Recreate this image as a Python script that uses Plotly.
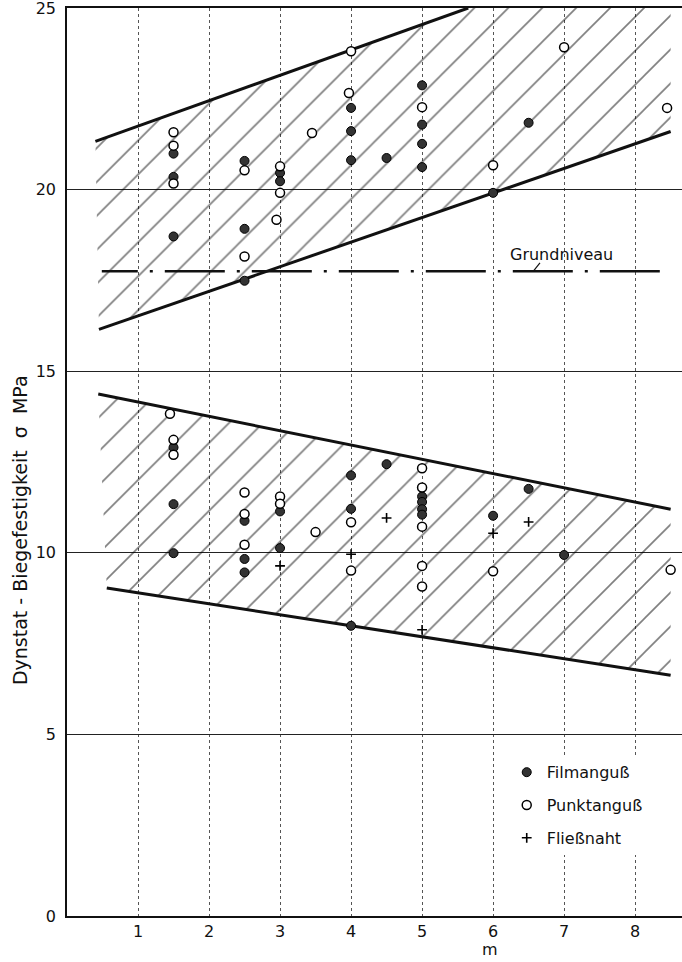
import plotly.graph_objects as go

# ---------------- data ----------------
film_x = [1.5, 1.5, 1.5, 2.5, 2.5, 2.5, 3, 3, 4, 4, 4, 4.5, 5, 5, 5, 5, 6, 6.5,
          1.5, 1.5, 1.5, 2.5, 2.5, 2.5, 3, 3, 4, 4, 4, 4.5, 5, 5, 5, 5, 6, 6.5, 7]
film_y = [20.99, 20.35, 18.71, 20.79, 18.92, 17.49, 20.46, 20.23, 22.25, 21.61, 20.81, 20.87,
          22.87, 21.79, 21.26, 20.62, 19.91, 21.84,
          12.90, 11.34, 9.99, 10.88, 9.83, 9.46, 11.14, 10.13, 12.13, 11.21, 7.99, 12.44,
          11.55, 11.40, 11.20, 11.05, 11.02, 11.76, 9.94]

punkt_x = [1.5, 1.5, 1.5, 2.5, 2.5, 3, 3, 2.95, 3.45, 4, 3.97, 5, 6, 7, 8.45,
           1.45, 1.5, 1.5, 2.5, 2.5, 2.5, 3, 3, 3.5, 4, 4, 5, 5, 5, 5, 5, 6, 8.5]
punkt_y = [21.58, 21.21, 20.17, 20.53, 18.16, 20.64, 19.91, 19.17, 21.56, 23.81, 22.66,
           22.27, 20.67, 23.92, 22.25,
           13.83, 13.11, 12.70, 11.66, 11.07, 10.22, 11.55, 11.35, 10.57, 10.84, 9.51,
           12.33, 11.80, 10.72, 9.64, 9.07, 9.49, 9.53]

fliess_x = [3, 4, 4.5, 5, 6, 6.5]
fliess_y = [9.64, 9.96, 10.96, 7.88, 10.54, 10.85]

# band limits (upper band: rising, lower band: falling)
upper_top_x = [0.40, 5.65]
upper_top_y = [21.33, 25.0]
upper_bot_x = [0.45, 8.50]
upper_bot_y = [16.15, 21.60]
lower_top_x = [0.44, 8.50]
lower_top_y = [14.37, 11.20]
lower_bot_x = [0.56, 8.50]
lower_bot_y = [9.03, 6.63]

grund_x = [0.49, 8.48]
grund_y = [17.75, 17.75]

x_ticks = [1, 2, 3, 4, 5, 6, 7, 8]
y_ticks = [0, 5, 10, 15, 20, 25]

FONT = "DejaVu Sans"
INK = "#111111"

fig = go.Figure()

hatch = dict(shape="/", size=24, solidity=0.07, fgcolor="#000000", bgcolor="rgba(0,0,0,0)")

# upper hatched band (clipped at the top border)
fig.add_trace(go.Scatter(
    x=[upper_top_x[0], upper_top_x[1], upper_bot_x[1], upper_bot_x[1], upper_bot_x[0]],
    y=[upper_top_y[0], upper_top_y[1], upper_top_y[1], upper_bot_y[1], upper_bot_y[0]],
    fill="toself", fillcolor="rgba(0,0,0,0)", fillpattern=hatch,
    mode="lines", line=dict(width=0, color="rgba(0,0,0,0)"),
    showlegend=False, hoverinfo="skip"))

# lower hatched band
fig.add_trace(go.Scatter(
    x=[lower_top_x[0], lower_top_x[1], lower_bot_x[1], lower_bot_x[0]],
    y=[lower_top_y[0], lower_top_y[1], lower_bot_y[1], lower_bot_y[0]],
    fill="toself", fillcolor="rgba(0,0,0,0)", fillpattern=hatch,
    mode="lines", line=dict(width=0, color="rgba(0,0,0,0)"),
    showlegend=False, hoverinfo="skip"))

# band boundary lines
for bx, by in [(upper_top_x, upper_top_y), (upper_bot_x, upper_bot_y),
               (lower_top_x, lower_top_y), (lower_bot_x, lower_bot_y)]:
    fig.add_trace(go.Scatter(x=bx, y=by, mode="lines",
                             line=dict(color=INK, width=3),
                             showlegend=False, hoverinfo="skip"))

# Grundniveau dash-dot line
dash = "36px,12px,3px,12px" + ",60px,12px,3px,12px" * 8
fig.add_trace(go.Scatter(x=grund_x, y=grund_y, mode="lines",
                         line=dict(color=INK, width=2.5, dash=dash),
                         showlegend=False, hoverinfo="skip"))

# data points
fig.add_trace(go.Scatter(
    x=film_x, y=film_y, mode="markers", name="Filmanguß", legendgroup="a",
    marker=dict(symbol="circle", size=9, color="#333333", line=dict(color="#000000", width=1))))
fig.add_trace(go.Scatter(
    x=punkt_x, y=punkt_y, mode="markers", name="Punktanguß", legendgroup="b",
    marker=dict(symbol="circle", size=9, color="#ffffff", line=dict(color="#000000", width=1.5))))
fig.add_trace(go.Scatter(
    x=fliess_x, y=fliess_y, mode="markers", name="Fließnaht", legendgroup="c",
    marker=dict(symbol="cross-thin", size=7, color="#000000", line=dict(color="#000000", width=1.6))))

# Grundniveau label with small leader
fig.add_annotation(x=6.97, y=18.22, xref="x", yref="y", text="Grundniveau",
                   showarrow=False, font=dict(family=FONT, size=16, color=INK))
fig.add_shape(type="line", x0=6.66, y0=17.98, x1=6.57, y1=17.76, xref="x", yref="y",
              line=dict(color=INK, width=1.2))

# axis titles as annotations
fig.add_annotation(x=5.95, y=-0.0374, xref="x", yref="paper", text="m", showarrow=False,
                   yanchor="middle", font=dict(family=FONT, size=16, color=INK))
fig.add_annotation(x=-0.0764, y=0.425, xref="paper", yref="paper",
                   xanchor="center", yanchor="middle",
                   text="Dynstat - Biegefestigkeit  σ  MPa", textangle=-90,
                   showarrow=False, font=dict(family=FONT, size=19, color=INK))

fig.update_layout(
    width=682, height=962,
    margin=dict(l=67, r=0, t=8, b=46),
    paper_bgcolor="white", plot_bgcolor="white",
    font=dict(family=FONT, size=15, color=INK),
    showlegend=True,
    legend=dict(x=0.715, y=0.177, xanchor="left", yanchor="top",
                bgcolor="white", borderwidth=0, traceorder="grouped",
                tracegroupgap=9, font=dict(family=FONT, size=16, color=INK)),
)
fig.update_xaxes(range=[0, 8.66], tickvals=x_ticks, ticktext=[str(v) for v in x_ticks],
                 showgrid=True, gridcolor="#555555", gridwidth=1, griddash="dot",
                 showline=True, linecolor=INK, linewidth=1.5, mirror=True,
                 ticks="", zeroline=False, tickfont=dict(size=16))
fig.update_yaxes(range=[0, 25], tickvals=y_ticks, ticktext=[str(v) for v in y_ticks],
                 showgrid=True, gridcolor="#222222", gridwidth=1,
                 showline=True, linecolor=INK, linewidth=1.5, mirror=False,
                 ticks="", zeroline=False, tickfont=dict(size=16), ticklabelstandoff=6,
                 ticklabeloverflow="allow")

fig.write_html("out.html", config={"displayModeBar": False},
               post_script="document.body.style.margin='0px';document.body.style.overflow='hidden';")
